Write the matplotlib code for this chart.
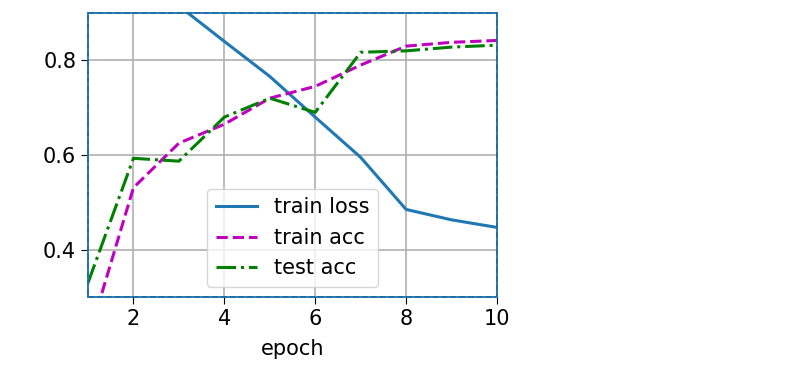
import numpy as np
import matplotlib.pyplot as plt

epochs = [1, 2, 3, 4, 5, 6, 7, 8, 9, 10]
train_loss = [2.0, 1.2, 0.915, 0.84, 0.766, 0.68, 0.595, 0.485, 0.463, 0.447]
train_acc = [0.21, 0.531, 0.625, 0.665, 0.72, 0.745, 0.79, 0.83, 0.838, 0.842]
test_acc = [0.33, 0.593, 0.587, 0.68, 0.72, 0.69, 0.817, 0.82, 0.828, 0.832]

plt.rcParams['font.size'] = 15

fig = plt.figure(figsize=(7.97, 3.78), dpi=100)
ax = fig.add_axes([88 / 797, 81 / 378, 409 / 797, 284 / 378])

ax.plot(epochs, train_loss, '-', color='#1f77b4', lw=2.2, label='train loss')
ax.plot(epochs, train_acc, '--', color='m', lw=2.2, label='train acc')
ax.plot(epochs, test_acc, '-.', color='g', lw=2.2, label='test acc')

ax.set_xlim(1, 10)
ax.set_ylim(0.3, 0.9)
ax.set_xticks([2, 4, 6, 8, 10])
ax.set_yticks([0.4, 0.6, 0.8])
ax.set_xlabel('epoch', labelpad=7)
ax.tick_params(length=5)
ax.grid(True, color='#b0b0b0', lw=1.2)
ax.legend(loc='lower center', bbox_to_anchor=(0.5, 0.0))

# spines: blue line with black dashes on top
for s in ax.spines.values():
    s.set_color('#1f77b4')
    s.set_linewidth(1.3)
ax.plot([0, 1, 1, 0, 0], [0, 0, 1, 1, 0], transform=ax.transAxes,
        color='black', ls='--', lw=1.2, clip_on=False)

fig.savefig('out.png', dpi=100)
